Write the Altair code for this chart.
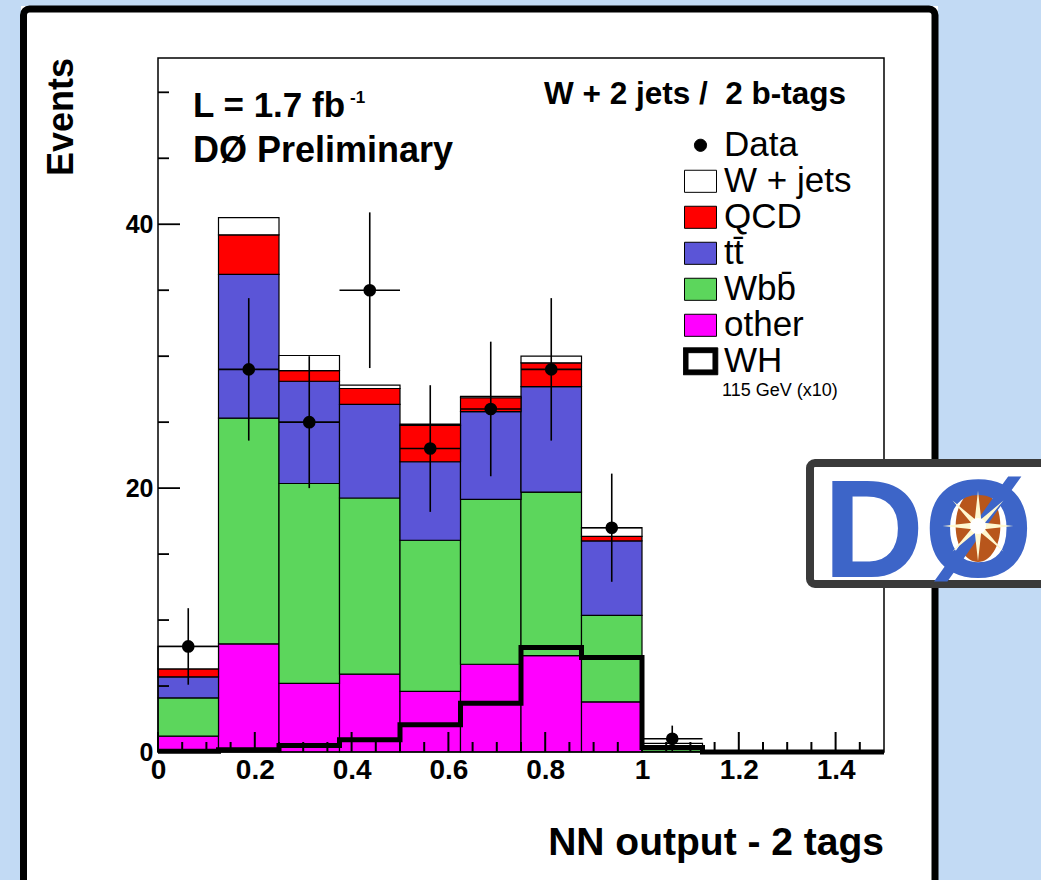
import altair as alt
import pandas as pd

# ---------------- values ----------------
BIN_EDGES = [0.0, 0.125, 0.25, 0.375, 0.5, 0.625, 0.75, 0.875, 1.0, 1.125, 1.25, 1.375, 1.5]
OTHER = [1.2, 8.2, 5.2, 5.9, 4.6, 6.65, 7.3, 3.8, 0.05, 0, 0, 0]
WBB = [2.9, 17.1, 15.15, 13.35, 11.45, 12.5, 12.4, 6.55, 0.15, 0, 0, 0]
TTBAR = [1.6, 10.9, 7.75, 7.1, 5.95, 6.65, 8.0, 5.65, 0.1, 0, 0, 0]
QCD = [0.6, 3.0, 0.8, 1.2, 2.75, 1.05, 1.8, 0.35, 0.05, 0, 0, 0]
WJETS = [1.7, 1.3, 1.15, 0.25, 0.1, 0.1, 0.5, 0.65, 0.3, 0, 0, 0]
WH_X10 = [0.05, 0.17, 0.5, 0.93, 2.07, 3.7, 7.92, 7.17, 0.35, 0, 0, 0]
DATA = [8, 29, 25, 35, 23, 26, 29, 17, 1]
DATA_ERR = [2.9, 5.4, 5.0, 5.9, 4.8, 5.1, 5.4, 4.1, 1.0]

TT_NAME = "tt\u0304"
WBB_NAME = "Wbb\u0304"
STACK_NAMES = ["other", WBB_NAME, TT_NAME, "QCD", "W + jets"]   # bottom -> top
STACK_VALUES = [OTHER, WBB, TTBAR, QCD, WJETS]
LEGEND_NAMES = ["Data", "W + jets", "QCD", TT_NAME, WBB_NAME, "other", "WH"]
LEGEND_COLORS = ["#000000", "#ffffff", "#ff0000", "#5b55d7", "#5cd65c", "#ff00ff", "#000000"]

X_MAJOR = [0, 0.2, 0.4, 0.6, 0.8, 1.0, 1.2, 1.4]
X_MINOR = [0.05, 0.1, 0.15, 0.25, 0.3, 0.35, 0.45, 0.5, 0.55, 0.65, 0.7, 0.75,
           0.85, 0.9, 0.95, 1.05, 1.1, 1.15, 1.25, 1.3, 1.35, 1.45]
Y_MAJOR = [0, 20, 40]
Y_MINOR = [5, 10, 15, 25, 30, 35, 45, 50]

# ---------------- tables ----------------
rows = []
for k, (name, vals) in enumerate(zip(STACK_NAMES, STACK_VALUES)):
    for i, v in enumerate(vals):
        if v > 0:
            rows.append({"bin": i, "k": k, "comp": name, "value": v,
                         "lo": BIN_EDGES[i], "hi": BIN_EDGES[i + 1]})
bars_df = pd.DataFrame(rows)

wh_df = pd.DataFrame({"x": BIN_EDGES, "y": WH_X10 + [WH_X10[-1]]})

data_df = pd.DataFrame({
    "lo": BIN_EDGES[:len(DATA)],
    "hi": BIN_EDGES[1:len(DATA) + 1],
    "y": DATA,
    "err": DATA_ERR,
})
data_df["x"] = (data_df["lo"] + data_df["hi"]) / 2
data_df["ylo"] = (data_df["y"] - data_df["err"]).clip(lower=0)
data_df["yhi"] = data_df["y"] + data_df["err"]

xt_major = pd.DataFrame({"xt": X_MAJOR})
xt_minor = pd.DataFrame({"xm": X_MINOR})
yt_major = pd.DataFrame({"yt": Y_MAJOR})
yt_minor = pd.DataFrame({"ym": Y_MINOR})

one = pd.DataFrame({"d": [0]})
empty = pd.DataFrame({"comp": pd.Series([], dtype="object")})

# ---------------- styling ----------------
W, H = 726, 694
FONT = "Liberation Sans"
BLUE_BG = "#c2daf4"
XS = alt.Scale(domain=[0, 1.5], nice=False, zero=False)
YS = alt.Scale(domain=[0, 52.6], nice=False, zero=False)

RECT = "M-1,-0.69H1V0.69H-1Z"
DOT = "M-0.38,0A0.38,0.38,0,1,1,0.38,0A0.38,0.38,0,1,1,-0.38,0Z"
FRAME = "M-1.08,-0.84H1.08V0.84H-1.08Z M-0.78,-0.54V0.54H0.78V-0.54Z"
SHAPES = [DOT, RECT, RECT, RECT, RECT, RECT, FRAME]

FILL_SCALE = alt.Scale(domain=LEGEND_NAMES, range=LEGEND_COLORS)
SHAPE_SCALE = alt.Scale(domain=LEGEND_NAMES, range=SHAPES)

LEG = alt.Legend(title=None, orient="none", legendX=525, legendY=70,
                 symbolSize=1024, symbolFillColor="white", symbolStrokeColor="black",
                 symbolStrokeWidth=1, labelFont=FONT, labelFontSize=35,
                 labelColor="black", labelOffset=6, labelLimit=0,
                 clipHeight=34.6, rowPadding=0, padding=0)

XAXIS = alt.Axis(values=X_MAJOR, format="~g", ticks=False, domain=False, grid=False,
                 labelFont=FONT, labelFontSize=28, labelFontWeight="bold",
                 labelColor="black", labelPadding=4, title=None,
                 labelOverlap=False, labelFlush=False, zindex=3)
YAXIS = alt.Axis(values=Y_MAJOR, format="d", ticks=False, domain=False, grid=False,
                 labelFont=FONT, labelFontSize=25, labelFontWeight="bold",
                 labelColor="black", labelPadding=5, title=None,
                 labelOverlap=False, labelFlush=False, zindex=3)


def X(field):
    return alt.X(field, scale=XS, axis=XAXIS)


def Y(field):
    return alt.Y(field, scale=YS, axis=YAXIS)


def label(text, x, y, size, weight="bold", align="left", angle=0, color="black"):
    return alt.Chart(one).mark_text(
        text=text, fontSize=size, fontWeight=weight, align=align,
        baseline="alphabetic", angle=angle, color=color, font=FONT
    ).encode(x=alt.value(x), y=alt.value(y))


def box(x, x2, y, y2, **kw):
    return alt.Chart(one).mark_rect(**kw).encode(
        x=alt.value(x), x2=alt.value(x2), y=alt.value(y), y2=alt.value(y2))


# ---------------- layers ----------------
bg_left = box(-170, -137, -70, 850, fill=BLUE_BG)
bg_right = box(780, 900, -70, 850, fill=BLUE_BG)
bg_top = box(-170, 900, -70, -52, fill=BLUE_BG)
border = box(-134.5, 777, -49, 850, fill="transparent", stroke="black",
             strokeWidth=7, cornerRadius=6)

bars = alt.Chart(bars_df).transform_stack(
    stack="value", groupby=["bin"], as_=["y0", "y1"],
    sort=[alt.SortField(field="k", order="ascending")]
).mark_rect(stroke="black", strokeWidth=1.2).encode(
    x=X("lo:Q"), x2="hi:Q", y=Y("y0:Q"), y2="y1:Q",
    fill=alt.Fill("comp:N", scale=FILL_SCALE, legend=LEG),
)

wh = alt.Chart(wh_df).mark_line(
    interpolate="step-after", color="black", strokeWidth=5, strokeJoin="miter"
).encode(x=X("x:Q"), y=Y("y:Q"))

err_v = alt.Chart(data_df).mark_rule(color="black", strokeWidth=1.6).encode(
    x=X("x:Q"), y=Y("ylo:Q"), y2="yhi:Q")
err_h = alt.Chart(data_df).mark_rule(color="black", strokeWidth=1.6).encode(
    x=X("lo:Q"), x2="hi:Q", y=Y("y:Q"))
points = alt.Chart(data_df).mark_circle(color="black", size=160, opacity=1).encode(
    x=X("x:Q"), y=Y("y:Q"))

TICK_COLOR = "#000000"
xtick_major = alt.Chart(xt_major).mark_rule(color=TICK_COLOR, strokeWidth=2).encode(
    x=X("xt:Q"), y=alt.value(H), y2=alt.value(H - 20))
xtick_minor = alt.Chart(xt_minor).mark_rule(color=TICK_COLOR, strokeWidth=2).encode(
    x=X("xm:Q"), y=alt.value(H), y2=alt.value(H - 10))
ytick_major = alt.Chart(yt_major).mark_rule(color=TICK_COLOR, strokeWidth=1.8).encode(
    y=Y("yt:Q"), x=alt.value(0), x2=alt.value(22))
ytick_minor = alt.Chart(yt_minor).mark_rule(color=TICK_COLOR, strokeWidth=1.8).encode(
    y=Y("ym:Q"), x=alt.value(0), x2=alt.value(11))

frame = box(0, W, 0, H, fill="transparent", stroke="black", strokeWidth=1.5)

legend_layer = alt.Chart(empty).mark_point(filled=True, stroke="black", opacity=1).encode(
    fill=alt.Fill("comp:N", scale=FILL_SCALE, legend=LEG),
    shape=alt.Shape("comp:N", scale=SHAPE_SCALE, legend=LEG),
)

texts = [
    label("L = 1.7 fb", 35, 59, 35),
    label("-1", 192, 45, 17),
    label("D\u00d8 Preliminary", 35, 104, 36),
    label("W + 2 jets / \u00a02 b-tags", 688, 46, 31.5, align="right"),
    label("115 GeV (x10)", 564, 338, 18, weight="normal"),
    label("Events", -85, 0, 36, align="right", angle=270),
    label("NN output - 2 tags", 726, 797, 39, align="right"),
]

# DØ logo
ELLIPSE = "M-0.62,0A0.62,1,0,1,1,0.62,0A0.62,1,0,1,1,-0.62,0Z"
STAR = ("M0,-1L0.1,-0.1L1,0L0.1,0.1L0,1L-0.1,0.1L-1,0L-0.1,-0.1Z "
        "M0.72,-0.72L0.12,0L0.72,0.72L0,0.12L-0.72,0.72L-0.12,0L-0.72,-0.72L0,-0.12Z")
logo_box = box(652, 960, 405, 526, fill="white", stroke="#3a3a3a", strokeWidth=8, cornerRadius=5)
logo_core = alt.Chart(one).mark_point(
    shape=ELLIPSE, size=5200, filled=True, fill="#b8561c", opacity=1, strokeWidth=0
).encode(x=alt.value(820), y=alt.value(468))
logo_text = alt.Chart(one).mark_text(
    text="D\u00d8", fontSize=140, fontWeight="bold", font=FONT, align="left",
    baseline="alphabetic", color="#3d65c8"
).encode(x=alt.value(665), y=alt.value(519))
logo_star = alt.Chart(one).mark_point(
    shape=STAR, size=5000, filled=True, fill="#fff8d0", opacity=1, strokeWidth=0
).encode(x=alt.value(820), y=alt.value(468))
logo_glow = alt.Chart(one).mark_circle(size=260, color="#ffffff", opacity=1).encode(
    x=alt.value(820), y=alt.value(468))

chart = alt.layer(
    bg_left, bg_right, bg_top, border,
    bars, wh, err_v, err_h, points,
    xtick_major, xtick_minor, ytick_major, ytick_minor,
    frame, legend_layer, *texts,
    logo_box, logo_core, logo_text, logo_star, logo_glow,
).properties(
    width=W, height=H,
    autosize=alt.AutoSizeParams(type="none"),
    padding={"left": 158, "top": 58, "right": 157, "bottom": 128},
).configure(background="white").configure_view(strokeWidth=0)

chart.save("out.html", embed_options={"renderer": "svg", "actions": False})
